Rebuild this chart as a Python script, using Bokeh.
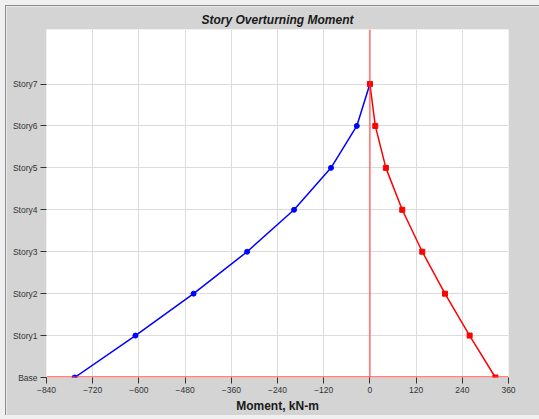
from bokeh.plotting import figure
from bokeh.layouts import column
from bokeh.models import FixedTicker, Span, ColumnDataSource
from bokeh.embed import file_html
from bokeh.resources import INLINE

# Story levels and their names
levels = [0, 1, 2, 3, 4, 5, 6, 7]
story_names = ["Base", "Story1", "Story2", "Story3", "Story4", "Story5", "Story6", "Story7"]

# Overturning moment per level (kN-m)
moment_neg = [-767, -609, -458, -319, -197, -101, -34, 0]
moment_pos = [326, 259, 195, 136, 84, 41.5, 14, 0]

x_ticks = list(range(-840, 361, 120))

neg_src = ColumnDataSource(data=dict(x=moment_neg, y=levels))
pos_src = ColumnDataSource(data=dict(x=moment_pos, y=levels))

p = figure(
    width=534, height=410,
    x_range=(-840, 360), y_range=(0, 8.3),
    output_backend="svg", toolbar_location=None,
    min_border_left=40, min_border_right=32,
    min_border_top=23, min_border_bottom=39,
    margin=(5, 0, 0, 5),
    title="Story Overturning Moment",
)
p.border_fill_color = "#d4d4d4"
p.background_fill_color = "white"
p.outline_line_color = None

p.title.align = "center"
p.title.text_font = "Liberation Sans"
p.title.text_font_style = "bold italic"
p.title.text_font_size = "12px"
p.title.text_color = "#1a1a1a"
p.title.offset = 0
p.title.standoff = 6

# grid
for g in (p.xgrid, p.ygrid):
    g.grid_line_color = "#dcdcdc"
    g.grid_line_width = 1

p.xaxis.ticker = FixedTicker(ticks=x_ticks)
p.yaxis.ticker = FixedTicker(ticks=levels)
p.yaxis.major_label_overrides = {lv: nm for lv, nm in zip(levels, story_names)}

for ax in (p.xaxis, p.yaxis):
    ax.axis_line_color = None
    ax.major_tick_in = 0
    ax.major_tick_out = 6
    ax.major_tick_line_color = "#333333"
    ax.minor_tick_line_color = None
    ax.major_label_text_font = "Liberation Sans"
    ax.major_label_text_font_size = "8.5px"
    ax.major_label_text_color = "#333333"
    ax.major_label_standoff = 3

p.xaxis.axis_label = "Moment, kN-m"
p.xaxis.axis_label_text_font = "Liberation Sans"
p.xaxis.axis_label_text_font_style = "bold"
p.xaxis.axis_label_text_font_size = "12px"
p.xaxis.axis_label_text_color = "#1a1a1a"
p.xaxis.axis_label_standoff = 3

# zero lines
p.add_layout(Span(location=0, dimension="height", line_color="#ff3030", line_alpha=0.5, line_width=2))
p.add_layout(Span(location=0, dimension="width", line_color="#ff3030", line_alpha=0.6, line_width=3))

p.line("x", "y", source=neg_src, line_color="#0000ff", line_width=1.5)
p.scatter("x", "y", source=neg_src, marker="circle", size=5, fill_color="#0000ff", line_color="#0000ff")

p.line("x", "y", source=pos_src, line_color="#ff0000", line_width=1.5)
p.scatter("x", "y", source=pos_src, marker="square", size=5, fill_color="#ff0000", line_color="#ff0000")

p.styles = {"border-top": "1px solid #8c8c8c", "border-left": "1px solid #8c8c8c"}

layout = column(p, styles={"background-color": "#f0f0f0"}, width=539, height=419)

open("out.html", "w").write(file_html(layout, INLINE))
